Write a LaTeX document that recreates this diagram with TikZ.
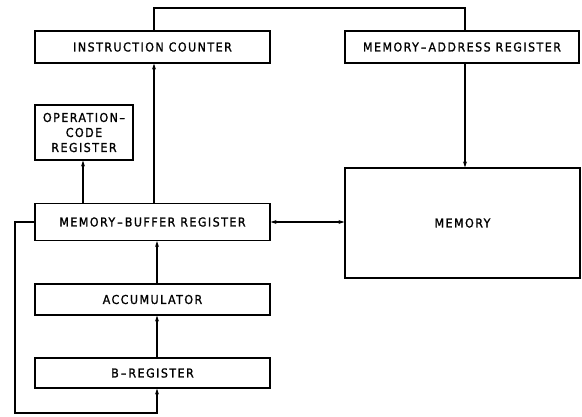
\documentclass[tikz,border=0pt]{standalone}
\usepackage{fontspec}
\setmainfont{DejaVu Sans Condensed}[LetterSpace=12,FakeBold=1.2]
\usetikzlibrary{arrows.meta}
\begin{document}
\begin{tikzpicture}[x=1pt,y=-1pt,
  box/.style={draw,line width=1.2pt,minimum height=#1,inner sep=0pt,font=\fontsize{12.3}{15}\selectfont,align=center},
  box/.default=32pt,
  con/.style={line width=1.1pt},
  arr/.style={con,-{Stealth[length=6pt,width=4pt]}},
  darr/.style={con,{Stealth[length=6pt,width=4pt]}-{Stealth[length=6pt,width=4pt]}}]
\useasboundingbox (0,0) rectangle (582,417);
\node[box=32pt,minimum width=235pt] (ic) at (152.5,47) {INSTRUCTION COUNTER};
\node[box=32pt,minimum width=234pt] (mar) at (462,47) {MEMORY\,--\,ADDRESS REGISTER};
\node[box=55pt,minimum width=98pt] (op) at (84,132.5) {OPERATION--\\CODE\\REGISTER};
\node[box=37pt,minimum width=235pt] (mbr) at (152.5,222) {MEMORY\,--\,BUFFER REGISTER};
\node[box=110pt,minimum width=235pt] (mem) at (462.5,223) {MEMORY};
\node[box=31pt,minimum width=235pt] (acc) at (152.5,299.5) {ACCUMULATOR};
\node[box=30pt,minimum width=235pt] (b) at (152.5,373) {B\,--\,REGISTER};
\coordinate (t1) at (154,8);
\coordinate (t2) at (465,8);
\coordinate (l1) at (15,222);
\coordinate (l2) at (15,413);
\coordinate (l3) at (157,413);
\draw[con] (ic.north -| t1) -- (t1) -- (t2) -- (mar.north -| t2);
\draw[arr] (mar.south -| t2) -- (mem.north -| t2);
\draw[arr] (mbr.north -| t1) -- (ic.south -| t1);
\draw[arr] (mbr.north -| 83,0) -- (op.south -| 83,0);
\draw[darr] (mbr.east) -- (mem.west |- mbr.east);
\draw[arr] (acc.north -| l3) -- (mbr.south -| l3);
\draw[arr] (b.north -| l3) -- (acc.south -| l3);
\draw[arr] (mbr.west) -- (l1) -- (l2) -- (l3) -- (b.south -| l3);
\end{tikzpicture}
\end{document}
